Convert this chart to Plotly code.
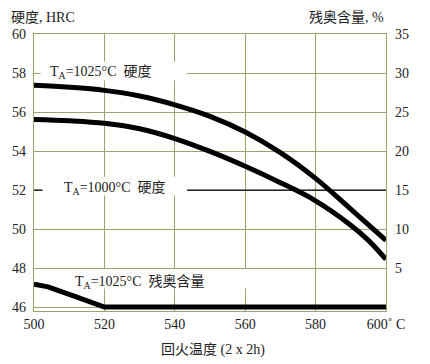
import plotly.graph_objects as go

# Hardness, T_A = 1025 C (HRC, left axis)
temps_1025 = [500, 510, 520, 530, 540, 550, 560, 570, 580, 590, 600]
hrc_1025 = [57.37, 57.27, 57.11, 56.82, 56.37, 55.78, 54.98, 53.92, 52.60, 51.02, 49.42]
# Hardness, T_A = 1000 C (HRC, left axis)
temps_1000 = [500, 510, 520, 530, 540, 550, 560, 570, 580, 590, 595, 600]
hrc_1000 = [55.62, 55.55, 55.42, 55.14, 54.64, 53.98, 53.22, 52.38, 51.45, 50.20, 49.42, 48.45]
# Retained austenite, T_A = 1025 C (%, right axis)
ra_temps = [500, 504, 512, 520, 560, 600]
ra_1025 = [2.95, 2.6, 1.3, 0.0, 0.0, 0.0]

x_ticks = [500, 520, 540, 560, 580, 600]
x_ticktext = ["500", "520", "540", "560", "580", "600˚ C"]
left_ticks = [46, 48, 50, 52, 54, 56, 58, 60]
right_ticks = [5, 10, 15, 20, 25, 30, 35]

OLIVE = "#a0a070"
SERIF = "Liberation Serif, Times New Roman, serif"
TXT = "#222222"

fig = go.Figure()
fig.add_trace(go.Scatter(x=temps_1025, y=hrc_1025, mode="lines",
                         line=dict(color="black", width=5, shape="spline", smoothing=1.0),
                         yaxis="y", showlegend=False))
fig.add_trace(go.Scatter(x=temps_1000, y=hrc_1000, mode="lines",
                         line=dict(color="black", width=5, shape="spline", smoothing=1.0),
                         yaxis="y", showlegend=False))
fig.add_trace(go.Scatter(x=ra_temps, y=ra_1025, mode="lines",
                         line=dict(color="black", width=5),
                         yaxis="y2", showlegend=False))

# black reference line at 52 HRC / 15 %
fig.add_shape(type="line", xref="x", yref="y", x0=500, x1=600, y0=52, y1=52,
              line=dict(color="black", width=1.2), layer="between")
# white label boxes
for (x0, x1, y0, y1) in [(501.9, 543.5, 57.62, 58.58), (502.4, 543.5, 51.72, 52.68), (509.8, 561.5, 46.95, 47.95)]:
    fig.add_shape(type="rect", xref="x", yref="y", x0=x0, x1=x1, y0=y0, y1=y1,
                  fillcolor="white", line=dict(width=0), layer="above")

tf = dict(family=SERIF, size=14, color=TXT)
fig.update_layout(
    width=430, height=364,
    margin=dict(l=31, r=44, t=34, b=53),
    paper_bgcolor="white", plot_bgcolor="white",
    font=dict(family=SERIF, size=14, color=TXT),
    xaxis=dict(range=[500, 600], tickvals=x_ticks, ticktext=x_ticktext, showgrid=True,
               gridcolor=OLIVE, gridwidth=1.3, zeroline=False, showline=True, linecolor=OLIVE,
               linewidth=1.3, mirror=True, ticks="", ticklabelstandoff=0, tickfont=tf),
    yaxis=dict(range=[45.8, 60], tickvals=left_ticks, showgrid=True, gridcolor=OLIVE,
               gridwidth=1.3, zeroline=False, showline=True, linecolor=OLIVE, linewidth=1.3,
               ticks="", ticklabelstandoff=4, tickfont=tf),
    yaxis2=dict(range=[-0.5, 35], tickvals=right_ticks, overlaying="y", side="right",
                showgrid=False, zeroline=False, showline=True, linecolor=OLIVE, linewidth=1.3,
                ticks="", ticklabelstandoff=5, tickfont=tf),
)

af = dict(family="Liberation Serif, Noto Sans CJK SC", size=14, color=TXT)
fig.add_annotation(x=503.9, y=58.05, xref="x", yref="y", text="T<sub>A</sub>=1025°C  硬度",
                   showarrow=False, xanchor="left", yanchor="middle", font=af)
fig.add_annotation(x=522.8, y=52.1, xref="x", yref="y", text="T<sub>A</sub>=1000°C  硬度",
                   showarrow=False, xanchor="center", yanchor="middle", font=af)
fig.add_annotation(x=511.0, y=47.3, xref="x", yref="y", text="T<sub>A</sub>=1025°C  残奥含量",
                   showarrow=False, xanchor="left", yanchor="middle", font=af)

PH = 277.0
fig.add_annotation(x=-25 / 355, y=1 + 17 / PH, xref="paper", yref="paper", text="硬度, HRC",
                   showarrow=False, xanchor="left", yanchor="middle", font=af)
fig.add_annotation(x=1.0, y=1 + 17 / PH, xref="paper", yref="paper", text="残奥含量, %",
                   showarrow=False, xanchor="right", yanchor="middle", font=af)
fig.add_annotation(x=(212 - 31) / 355, y=-(350 - 311) / PH, xref="paper", yref="paper",
                   text="回火温度 (2 x 2h)", showarrow=False, xanchor="center", yanchor="middle", font=af)

fig.write_html("out.html", config={"displayModeBar": False},
               post_script="document.body.style.margin='0';document.body.style.padding='0';")
